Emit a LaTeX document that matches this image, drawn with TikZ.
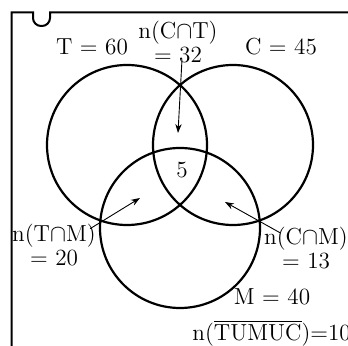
\documentclass[tikz,border=0pt]{standalone}
\usepackage{tikz}
\usetikzlibrary{arrows.meta,positioning}

\begin{document}
\begin{tikzpicture}[x=0.5pt, y=-0.5pt, font=\fontsize{11.6}{12}\selectfont,
  ring/.style={line width=1.1pt},
  lab/.style={inner sep=1pt, align=center},
  ptr/.style={line width=0.45pt, -{Stealth[length=4.5pt,width=3.2pt]}}]
\useasboundingbox (0,0) rectangle (348,346);

% frame with the notch
\draw[line width=1pt]
  (11.5,346) |- (33,12.5) {[rounded corners=4pt] -- (33,26) -- (50,26)} -- (50,12.5) -- (349,12.5);

% the three sets
\coordinate (cT) at (127,145);
\coordinate (cC) at (233,145);
\coordinate (cM) at (180,228);
\draw[ring] (cT) circle[radius=80];
\draw[ring] (cC) circle[radius=80];
\draw[ring] (cM) circle[radius=80];

% labels
\node[lab] (tlab) at (92,47) {T = 60};
\node[lab] (clab) at (281,47) {C = 45};
\node[lab] (mlab) at (272,297) {M = 40};
\node[lab] (five) at (182,170) {5};
\node[lab] (ct) at (178,42) {n(C$\cap$T)\\= 32};
\node[lab] (tm) at (54,245) {n(T$\cap$M)\\= 20};
\node[lab] (cm) at (306,248) {n(C$\cap$M)\\= 13};
\node[lab, anchor=west] (none) at (190,333) {n($\overline{\mbox{TUMUC}}$)=10};

% pointers into the regions
\coordinate (pct) at (178,133);
\coordinate (ptm) at (140,198);
\coordinate (pcm) at (225,202);
\draw[ptr] ([xshift=2pt,yshift=3pt]ct.south) -- (pct);
\draw[ptr] ([xshift=-4pt,yshift=-3.5pt]tm.north east) -- (ptm);
\draw[ptr] ([xshift=9pt,yshift=-4pt]cm.north west) -- (pcm);
\end{tikzpicture}
\end{document}
